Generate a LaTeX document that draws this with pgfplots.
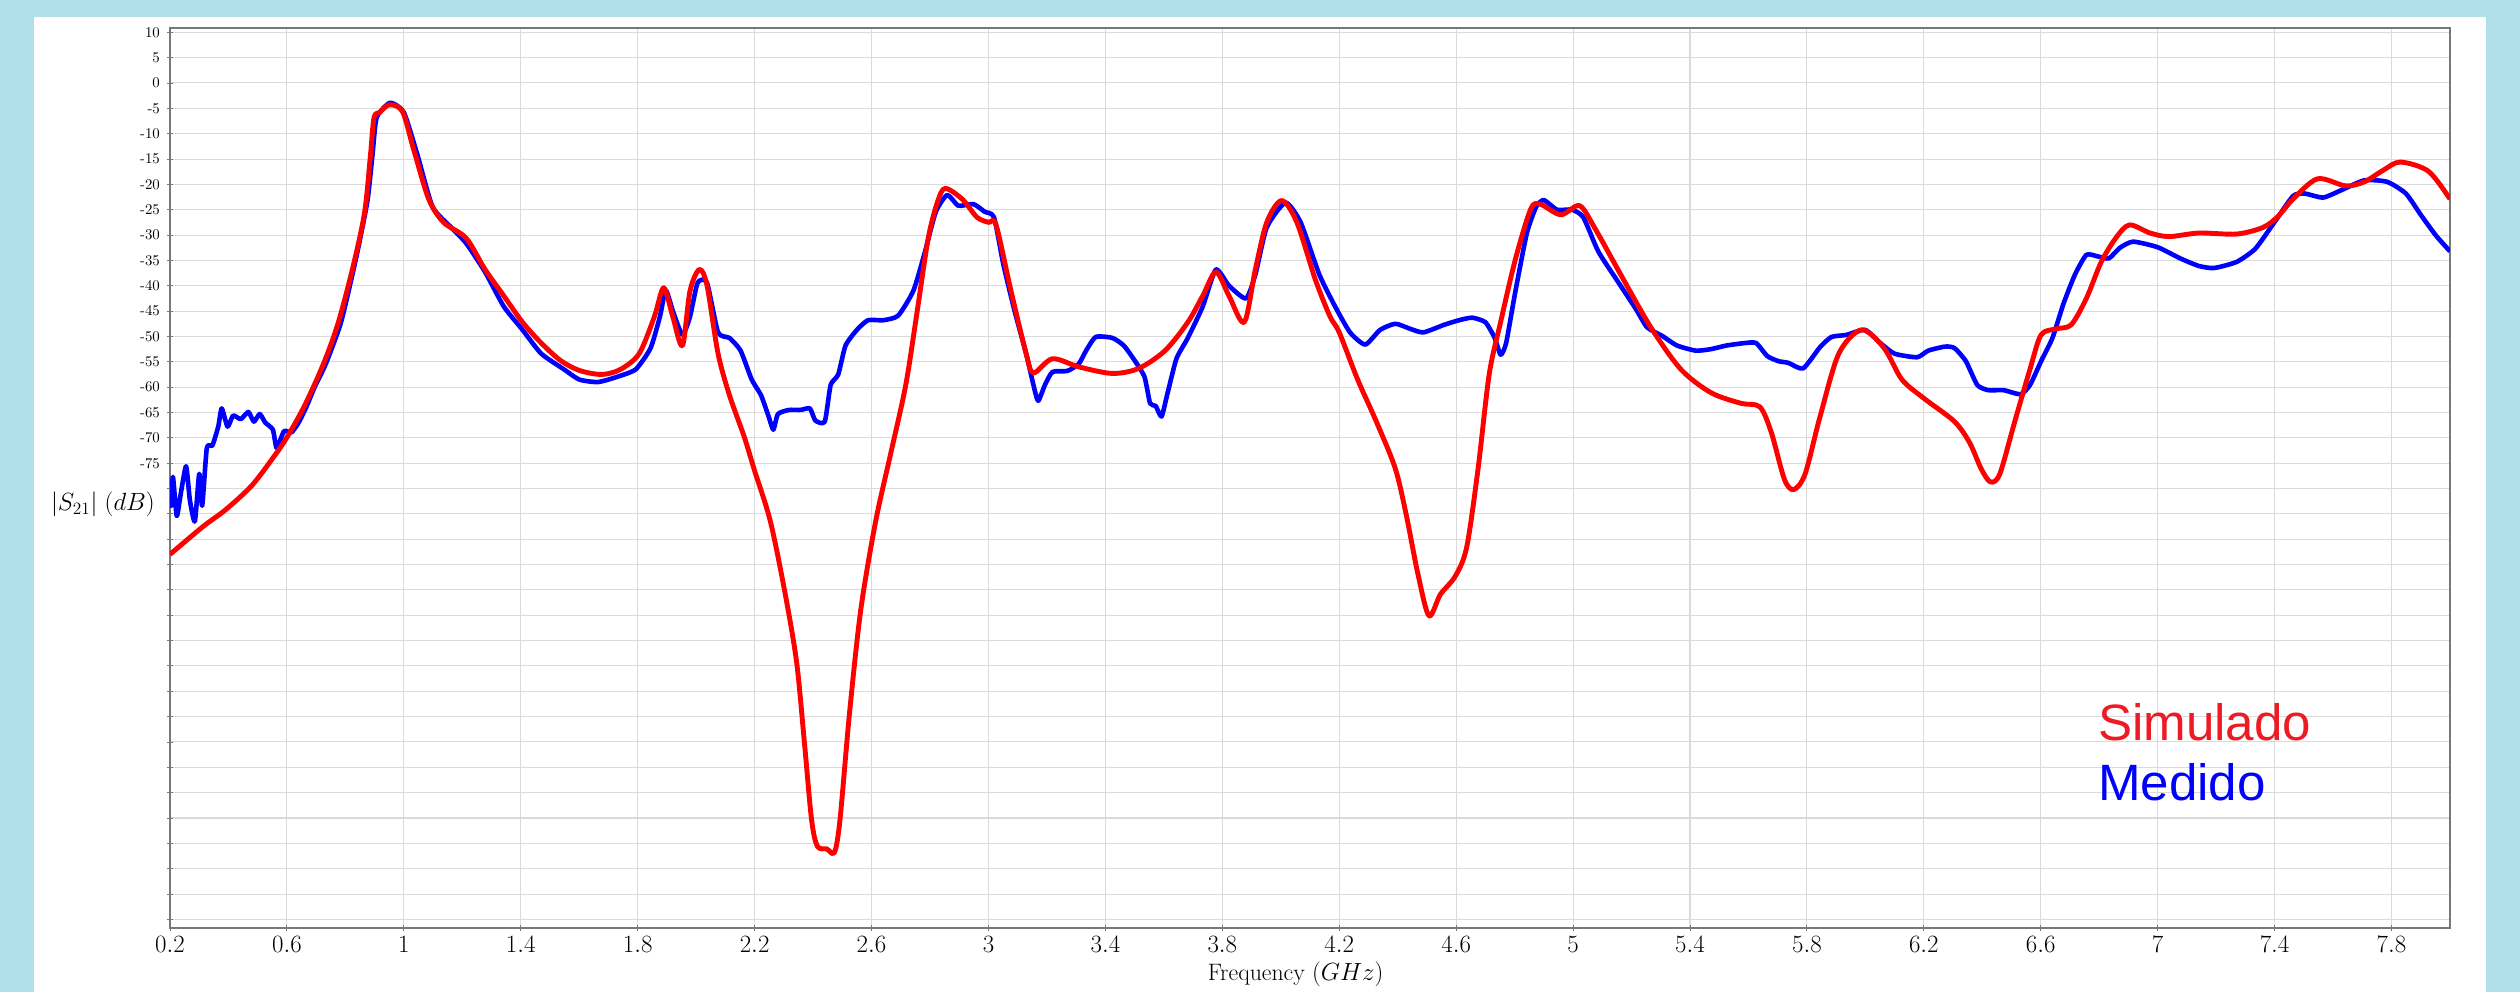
\documentclass[border=0pt]{standalone}
\usepackage{pgfplots}
\pgfplotsset{compat=1.18}
\usepackage{fontspec}
\newfontfamily\legfont{Liberation Sans}
\definecolor{bgblue}{RGB}{176,222,233}
\definecolor{simred}{RGB}{237,28,36}
\definecolor{axgray}{RGB}{120,120,120}
\definecolor{gridgray}{RGB}{218,218,218}
\begin{document}
\begin{tikzpicture}
\fill[bgblue] (-118.06pt,-44.44pt) rectangle (1631.94pt,644.44pt);
\fill[white] (-94.44pt,-44.44pt) rectangle (1608.33pt,632.64pt);
\begin{axis}[
  at={(0pt,0pt)}, anchor=south west,
  scale only axis, width=1583.33pt, height=625pt,
  xmin=0.2, xmax=8.0, ymin=-166.7, ymax=10.85,
  xtick={0.2,0.6,1,1.4,1.8,2.2,2.6,3,3.4,3.8,4.2,4.6,5,5.4,5.8,6.2,6.6,7,7.4,7.8},
  ytick={-165,-160,...,10},
  yticklabels={,,,,,,,,,,,,,,,,,,-75,-70,-65,-60,-55,-50,-45,-40,-35,-30,-25,-20,-15,-10,-5,0,5,10},
  xticklabel style={font=\fontsize{16}{19}\selectfont},
  yticklabel style={font=\fontsize{10.3}{12}\selectfont, xshift=-1.5pt},
  tick pos=left, tick align=center, major tick length=4pt,
  tick style={axgray, line width=0.6pt},
  axis line style={axgray, line width=0.8pt},
  grid=major, major grid style={gridgray, line width=0.7pt},
  xlabel={Frequency $(GHz)$},
  xlabel style={font=\fontsize{16.5}{20}\selectfont, xshift=-10pt},
  ylabel={$|S_{21}|\ (dB)$},
  every axis y label/.style={at={(axis description cs:0,0.471)}, anchor=east, inner sep=0pt, xshift=-10.4pt, font=\fontsize{16.5}{20}\selectfont},
]
\addplot[blue, line width=3.2pt, smooth, tension=0.35, line join=round] coordinates {
(0.2,-78.2) (0.204,-83.4) (0.21,-77.7) (0.223,-85.4) (0.236,-81.3) (0.255,-75.6) (0.268,-82.3) (0.285,-86.5) (0.3,-77.1) (0.31,-83.4) (0.326,-72.0) (0.345,-71.5) (0.365,-67.8) (0.377,-64.2) (0.397,-67.8) (0.416,-65.6) (0.442,-66.3) (0.468,-64.9) (0.487,-66.8) (0.507,-65.3) (0.526,-67.0) (0.552,-68.4) (0.565,-72.0) (0.59,-68.7) (0.616,-68.9) (0.642,-66.8) (0.668,-63.7) (0.694,-60.1) (0.733,-55.4) (0.785,-47.2) (0.836,-34.7) (0.875,-23.4) (0.893,-14.0) (0.907,-6.8) (0.953,-3.9) (1.0,-5.8) (1.046,-14.1) (1.098,-24.4) (1.162,-28.5) (1.213,-31.6) (1.278,-37.3) (1.342,-44.1) (1.406,-48.7) (1.47,-53.4) (1.548,-56.5) (1.6,-58.5) (1.664,-59.0) (1.728,-58.0) (1.793,-56.5) (1.844,-52.3) (1.876,-46.1) (1.896,-40.9) (1.921,-45.1) (1.953,-49.7) (1.979,-46.1) (2.005,-39.4) (2.037,-39.4) (2.075,-49.2) (2.114,-50.3) (2.152,-52.8) (2.19,-58.5) (2.222,-61.6) (2.248,-65.8) (2.264,-68.4) (2.28,-65.3) (2.318,-64.5) (2.357,-64.5) (2.389,-64.2) (2.408,-66.6) (2.44,-66.8) (2.46,-59.6) (2.486,-57.5) (2.511,-51.8) (2.55,-48.7) (2.588,-46.8) (2.64,-46.8) (2.691,-45.9) (2.743,-41.0) (2.781,-33.7) (2.82,-25.4) (2.859,-22.1) (2.897,-24.2) (2.949,-23.9) (2.987,-25.4) (3.019,-26.5) (3.051,-35.8) (3.09,-45.1) (3.129,-53.4) (3.154,-59.6) (3.17,-62.7) (3.193,-59.6) (3.219,-57.0) (3.27,-56.8) (3.309,-55.4) (3.334,-52.8) (3.367,-50.1) (3.424,-50.3) (3.463,-51.8) (3.502,-54.9) (3.534,-58.0) (3.553,-63.2) (3.572,-63.7) (3.592,-65.8) (3.611,-61.6) (3.643,-54.4) (3.682,-50.3) (3.733,-44.1) (3.778,-36.8) (3.823,-40.0) (3.881,-42.5) (3.913,-37.8) (3.952,-28.5) (4.016,-23.6) (4.068,-27.5) (4.132,-37.8) (4.186,-44.1) (4.237,-49.2) (4.289,-51.6) (4.34,-48.7) (4.392,-47.5) (4.443,-48.5) (4.488,-49.2) (4.559,-47.7) (4.61,-46.8) (4.655,-46.3) (4.7,-47.2) (4.732,-50.3) (4.752,-53.6) (4.771,-51.3) (4.803,-41.0) (4.842,-29.6) (4.874,-24.4) (4.9,-23.1) (4.945,-25.0) (4.996,-25.0) (5.035,-26.5) (5.086,-33.2) (5.15,-38.9) (5.215,-44.6) (5.253,-48.2) (5.305,-49.9) (5.356,-51.8) (5.42,-52.8) (5.472,-52.5) (5.524,-51.8) (5.588,-51.3) (5.626,-51.3) (5.665,-53.9) (5.704,-54.9) (5.736,-55.2) (5.787,-56.3) (5.845,-52.1) (5.884,-50.1) (5.935,-49.7) (5.999,-48.7) (6.051,-51.3) (6.1,-53.4) (6.177,-54.1) (6.215,-52.8) (6.273,-52.0) (6.305,-52.3) (6.344,-54.9) (6.383,-59.6) (6.421,-60.6) (6.473,-60.6) (6.531,-61.4) (6.563,-59.6) (6.601,-54.9) (6.64,-50.3) (6.678,-43.5) (6.717,-37.8) (6.756,-33.9) (6.794,-34.2) (6.833,-34.6) (6.871,-32.5) (6.916,-31.3) (7.0,-32.4) (7.077,-34.6) (7.141,-36.1) (7.193,-36.5) (7.27,-35.3) (7.334,-32.7) (7.399,-27.5) (7.463,-22.3) (7.502,-21.8) (7.566,-22.6) (7.63,-21.1) (7.707,-19.2) (7.785,-19.5) (7.849,-21.8) (7.9,-26.0) (7.952,-30.1) (8.0,-33.2)
};
\addplot[red, line width=3.4pt, smooth, tension=0.5, line join=round] coordinates {
(0.2,-93.0) (0.313,-87.5) (0.39,-84.2) (0.48,-79.4) (0.558,-73.5) (0.6,-69.9) (0.66,-63.7) (0.725,-55.4) (0.776,-47.2) (0.828,-35.8) (0.866,-25.4) (0.886,-14.1) (0.898,-6.8) (0.918,-5.8) (0.95,-4.3) (0.995,-5.6) (1.033,-13.0) (1.085,-22.9) (1.136,-27.5) (1.213,-30.6) (1.278,-36.8) (1.342,-42.0) (1.406,-47.2) (1.47,-51.3) (1.535,-54.7) (1.6,-56.7) (1.677,-57.5) (1.741,-56.5) (1.805,-53.4) (1.857,-46.1) (1.889,-40.4) (1.92,-46.1) (1.953,-51.8) (1.979,-41.0) (2.011,-36.8) (2.037,-39.9) (2.075,-53.4) (2.114,-61.6) (2.165,-69.9) (2.2,-76.5) (2.254,-86.5) (2.305,-100.9) (2.344,-114.4) (2.37,-129.9) (2.395,-145.4) (2.415,-150.6) (2.447,-151.1) (2.473,-151.8) (2.492,-145.4) (2.524,-124.7) (2.563,-104.0) (2.614,-86.5) (2.666,-73.0) (2.717,-59.6) (2.756,-45.1) (2.794,-30.6) (2.826,-23.4) (2.852,-20.8) (2.91,-22.9) (2.961,-26.5) (3.0,-27.5) (3.026,-28.0) (3.077,-41.0) (3.129,-53.4) (3.154,-57.2) (3.219,-54.4) (3.309,-56.0) (3.424,-57.3) (3.514,-56.3) (3.604,-52.8) (3.682,-47.2) (3.733,-42.0) (3.778,-37.3) (3.823,-42.0) (3.875,-47.2) (3.913,-36.8) (3.952,-27.5) (4.003,-23.2) (4.055,-27.5) (4.119,-38.9) (4.168,-46.0) (4.2,-49.2) (4.263,-58.5) (4.327,-66.8) (4.392,-76.1) (4.43,-85.4) (4.469,-96.8) (4.507,-105.1) (4.546,-100.9) (4.597,-97.3) (4.636,-91.6) (4.675,-76.1) (4.713,-57.5) (4.752,-47.2) (4.803,-34.7) (4.855,-24.9) (4.887,-23.9) (4.958,-26.0) (5.022,-24.2) (5.073,-28.5) (5.163,-37.8) (5.266,-48.2) (5.369,-56.5) (5.472,-61.1) (5.575,-63.2) (5.639,-63.9) (5.678,-68.9) (5.723,-78.2) (5.755,-80.2) (5.794,-77.1) (5.845,-65.8) (5.909,-53.4) (5.987,-48.7) (6.064,-52.3) (6.125,-58.5) (6.2,-62.2) (6.305,-66.8) (6.357,-71.0) (6.396,-76.1) (6.428,-78.7) (6.46,-77.1) (6.511,-66.8) (6.563,-56.5) (6.601,-49.7) (6.653,-48.5) (6.704,-47.7) (6.756,-42.5) (6.807,-35.3) (6.859,-30.4) (6.904,-28.0) (6.974,-29.6) (7.039,-30.3) (7.141,-29.6) (7.27,-29.8) (7.36,-28.5) (7.412,-26.3) (7.463,-22.9) (7.547,-18.9) (7.643,-20.3) (7.707,-19.5) (7.772,-17.2) (7.83,-15.6) (7.926,-17.4) (8.0,-22.9)
};
\node[anchor=base west, inner sep=0pt, text=simred, font=\legfont\fontsize{35.5}{42}\selectfont] at (axis cs:6.795,-129.8) {Simulado};
\node[anchor=base west, inner sep=0pt, text=blue, font=\legfont\fontsize{35.5}{42}\selectfont] at (axis cs:6.795,-141.6) {Medido};
\end{axis}
\pgfresetboundingbox
\useasboundingbox (-118.06pt,-44.44pt) rectangle (1631.94pt,644.44pt);
\end{tikzpicture}
\end{document}
